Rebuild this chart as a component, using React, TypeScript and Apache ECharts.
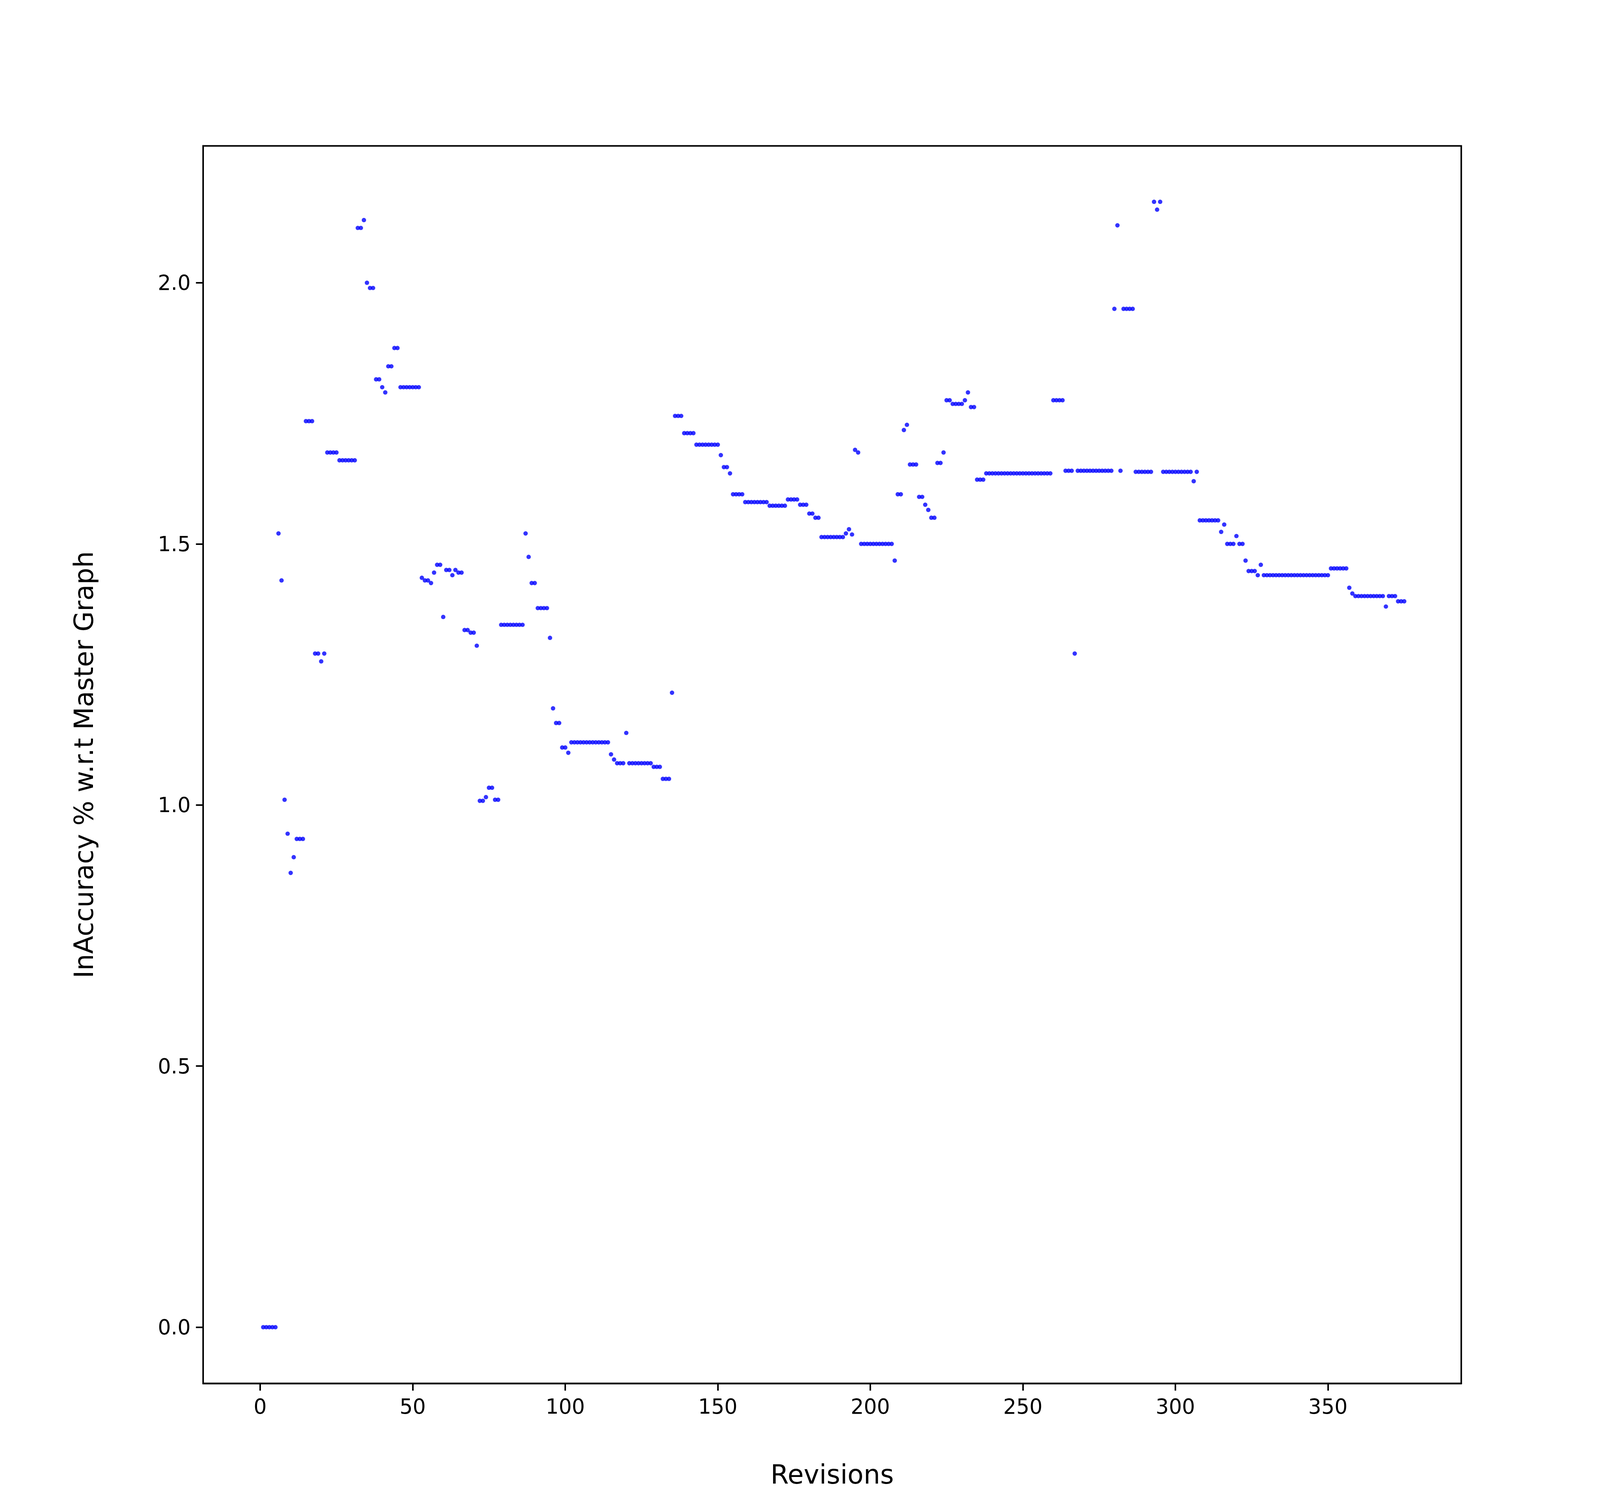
import { useEffect, useRef } from "react";
import * as echarts from "echarts";

// [firstRevision, lastRevision, inaccuracy %]
const runs: [number, number, number][] = [
  [1, 5, 0], [6, 6, 1.52], [7, 7, 1.43], [8, 8, 1.01], [9, 9, 0.945], [10, 10, 0.87],
  [11, 11, 0.9], [12, 14, 0.935], [15, 17, 1.735], [18, 19, 1.29], [20, 20, 1.275],
  [21, 21, 1.29], [22, 25, 1.675], [26, 31, 1.66], [32, 33, 2.105], [34, 34, 2.12],
  [35, 35, 2.0], [36, 37, 1.99], [38, 39, 1.815], [40, 40, 1.8], [41, 41, 1.79],
  [42, 43, 1.84], [44, 45, 1.875], [46, 52, 1.8], [53, 53, 1.435], [54, 55, 1.43],
  [56, 56, 1.425], [57, 57, 1.445], [58, 59, 1.46], [60, 60, 1.36], [61, 62, 1.45],
  [63, 63, 1.44], [64, 64, 1.45], [65, 66, 1.445], [67, 68, 1.335], [69, 70, 1.33],
  [71, 71, 1.305], [72, 73, 1.008], [74, 74, 1.015], [75, 76, 1.033], [77, 78, 1.01],
  [79, 86, 1.345], [87, 87, 1.52], [88, 88, 1.475], [89, 90, 1.425], [91, 94, 1.377],
  [95, 95, 1.32], [96, 96, 1.185], [97, 98, 1.157], [99, 100, 1.11], [101, 101, 1.1],
  [102, 114, 1.12], [115, 115, 1.097], [116, 116, 1.087], [117, 119, 1.08],
  [120, 120, 1.138], [121, 128, 1.08], [129, 131, 1.073], [132, 134, 1.05],
  [135, 135, 1.215], [136, 138, 1.745], [139, 142, 1.712], [143, 150, 1.69],
  [151, 151, 1.67], [152, 153, 1.647], [154, 154, 1.635], [155, 158, 1.595],
  [159, 166, 1.58], [167, 172, 1.573], [173, 176, 1.585], [177, 179, 1.575],
  [180, 181, 1.558], [182, 183, 1.55], [184, 191, 1.513], [192, 192, 1.52],
  [193, 193, 1.528], [194, 194, 1.518], [195, 195, 1.68], [196, 196, 1.675],
  [197, 207, 1.5], [208, 208, 1.468], [209, 210, 1.595], [211, 211, 1.718],
  [212, 212, 1.728], [213, 215, 1.652], [216, 217, 1.59], [218, 218, 1.575],
  [219, 219, 1.565], [220, 221, 1.55], [222, 223, 1.655], [224, 224, 1.675],
  [225, 226, 1.775], [227, 230, 1.768], [231, 231, 1.775], [232, 232, 1.79],
  [233, 234, 1.762], [235, 237, 1.623], [238, 259, 1.635], [260, 263, 1.775],
  [264, 266, 1.64], [267, 267, 1.29], [268, 279, 1.64], [280, 280, 1.95],
  [281, 281, 2.11], [282, 282, 1.64], [283, 286, 1.95], [287, 292, 1.638],
  [293, 293, 2.155], [294, 294, 2.14], [295, 295, 2.155], [296, 305, 1.638],
  [306, 306, 1.62], [307, 307, 1.638], [308, 314, 1.545], [315, 315, 1.523],
  [316, 316, 1.537], [317, 319, 1.5], [320, 320, 1.515], [321, 322, 1.5],
  [323, 323, 1.468], [324, 326, 1.448], [327, 327, 1.44], [328, 328, 1.46],
  [329, 350, 1.44], [351, 356, 1.453], [357, 357, 1.416], [358, 358, 1.405],
  [359, 368, 1.4], [369, 369, 1.38], [370, 372, 1.4], [373, 375, 1.39],
];

const xTicks = [0, 50, 100, 150, 200, 250, 300, 350];
const yTicks = [0, 0.5, 1.0, 1.5, 2.0];

const points: [number, number][] = [];
runs.forEach(([a, b, v]) => {
  for (let r = a; r <= b; r++) points.push([r, v]);
});

const font = "DejaVu Sans";

export default function App() {
  const ref = useRef<HTMLDivElement>(null);

  useEffect(() => {
    document.body.style.margin = "0";
    if (!ref.current) return;
    const chart = echarts.init(ref.current, null, { renderer: "svg" });
    // sizes below are designed for a 5120px wide canvas
    const s = ref.current.clientWidth / 5120;
    const axisCommon = {
      axisLine: { show: true, onZero: false, lineStyle: { color: "#000", width: 5 * s } },
      splitLine: { show: false },
      axisLabel: { color: "#000", fontSize: 66 * s, fontFamily: font, margin: 40 * s },
      axisTick: { show: true, length: 23 * s, lineStyle: { color: "#000", width: 5 * s } },
    };
    chart.setOption({
      animation: false,
      backgroundColor: "#fff",
      grid: {
        left: 650 * s, right: 444 * s, top: 467 * s, bottom: 373 * s,
        show: true, borderColor: "#000", borderWidth: 5 * s,
      },
      xAxis: {
        type: "value",
        min: -18.7,
        max: 393.7,
        name: "Revisions",
        nameLocation: "middle",
        nameGap: 250 * s,
        nameTextStyle: { fontSize: 84 * s, fontFamily: font, color: "#000" },
        ...axisCommon,
        axisLabel: { ...axisCommon.axisLabel, customValues: xTicks },
        axisTick: { ...axisCommon.axisTick, customValues: xTicks },
      },
      yAxis: {
        type: "value",
        min: -0.1077,
        max: 2.262,
        name: "InAccuracy % w.r.t Master Graph",
        nameLocation: "middle",
        nameGap: 340 * s,
        nameTextStyle: { fontSize: 84 * s, fontFamily: font, color: "#000" },
        ...axisCommon,
        axisLabel: {
          ...axisCommon.axisLabel,
          customValues: yTicks,
          formatter: (v: number) => v.toFixed(1),
        },
        axisTick: { ...axisCommon.axisTick, customValues: yTicks },
      },
      series: [
        {
          type: "scatter",
          data: points,
          symbol: "circle",
          symbolSize: 14 * s,
          itemStyle: { color: "#0000ff" },
        },
      ],
    });
    return () => chart.dispose();
  }, []);

  return <div ref={ref} style={{ width: "100vw", height: "100vh" }} />;
}
